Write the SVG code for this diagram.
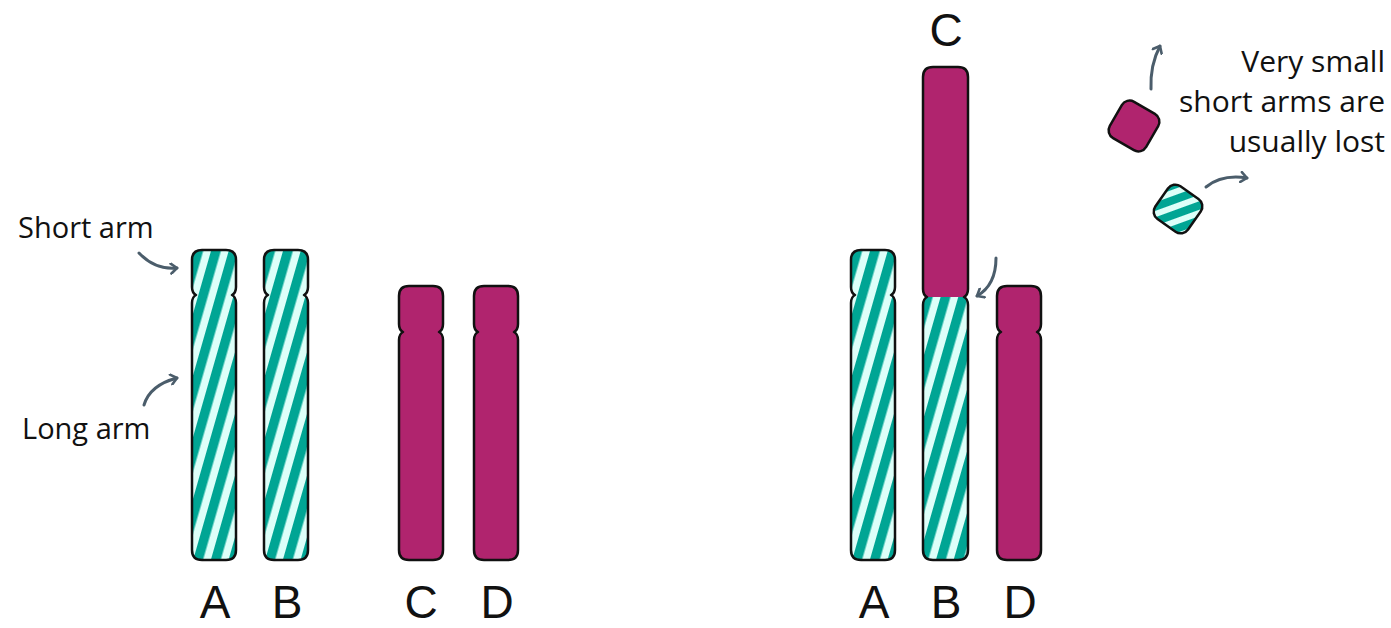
<svg xmlns="http://www.w3.org/2000/svg" width="1391" height="628" viewBox="0 0 1391 628">
  <style>
    .outline { fill: none; stroke: #111; stroke-width: 2.5; stroke-linejoin: round; }
    .magenta { fill: #B0246E; }
    .striped { fill: url(#stripes); }
    .arrow { fill: none; stroke: #4B5D6B; stroke-width: 3; stroke-linecap: round; marker-end: url(#head); }
    .label { font-family: "Open Sans", "Noto Sans", sans-serif; fill: #111; }
    .big { font-family: "Liberation Sans", Arial, sans-serif; font-size: 46px; text-anchor: middle; }
    .note { font-size: 29px; }
    .note-r { font-size: 30px; text-anchor: end; }
  </style>
  <defs>
    <pattern id="stripes" patternUnits="userSpaceOnUse" width="17" height="17" patternTransform="rotate(16)">
      <rect width="17" height="17" fill="#DDFFF9"/>
      <rect width="9.5" height="17" fill="#00A594"/>
    </pattern>
    <pattern id="stripesTilt" patternUnits="userSpaceOnUse" width="14" height="14" patternTransform="rotate(35)">
      <rect width="14" height="14" fill="#DDFFF9"/>
      <rect width="8" height="14" fill="#00A594"/>
    </pattern>
    <marker id="head" viewBox="0 0 12 12" refX="8" refY="6" markerWidth="12" markerHeight="12" markerUnits="userSpaceOnUse" orient="auto">
      <path d="M2,1 L8,6 L2,11" fill="none" stroke="#4B5D6B" stroke-width="2.6" stroke-linecap="round" stroke-linejoin="round"/>
    </marker>
    <!-- chromosome silhouettes: rounded body with a centromere pinch -->
    <path id="chrAB" d="M202,250 H226 Q236,250 236,260 V287 Q236,293 232,295 Q236,297 236,303 V550 Q236,560 226,560 H202 Q192,560 192,550 V303 Q192,297 196,295 Q192,293 192,287 V260 Q192,250 202,250 Z"/>
    <path id="chrCD" d="M409,286 H433 Q443,286 443,296 V324 Q443,330 439,332 Q443,334 443,340 V550 Q443,560 433,560 H409 Q399,560 399,550 V340 Q399,334 403,332 Q399,330 399,324 V296 Q399,286 409,286 Z"/>
    <path id="fused" d="M933,67 H958 Q968,67 968,77 V289 Q968,295 964,297 Q968,299 968,305 V550 Q968,560 958,560 H933 Q923,560 923,550 V305 Q923,299 927,297 Q923,295 923,289 V77 Q923,67 933,67 Z"/>
    <clipPath id="fusedClip"><use href="#fused"/></clipPath>
  </defs>

  <!-- before: two acrocentric pairs -->
  <g id="chrA1">
    <use href="#chrAB" class="striped"/>
    <use href="#chrAB" class="outline"/>
  </g>
  <g id="chrB1" transform="translate(72,0)">
    <use href="#chrAB" class="striped"/>
    <use href="#chrAB" class="outline"/>
  </g>
  <g id="chrC1">
    <use href="#chrCD" class="magenta"/>
    <use href="#chrCD" class="outline"/>
  </g>
  <g id="chrD1" transform="translate(75,0)">
    <use href="#chrCD" class="magenta"/>
    <use href="#chrCD" class="outline"/>
  </g>

  <!-- after: C long arm joined onto B long arm -->
  <g id="chrA2" transform="translate(659,0)">
    <use href="#chrAB" class="striped"/>
    <use href="#chrAB" class="outline"/>
  </g>
  <g id="chrBC">
    <use href="#fused" class="striped"/>
    <rect x="920" y="60" width="52" height="237" class="magenta" clip-path="url(#fusedClip)"/>
    <use href="#fused" class="outline"/>
  </g>
  <g id="chrD2" transform="translate(598,0)">
    <use href="#chrCD" class="magenta"/>
    <use href="#chrCD" class="outline"/>
  </g>

  <!-- detached short arms -->
  <g id="shortC" transform="translate(1134,126) rotate(30)">
    <rect x="-21" y="-21" width="42" height="42" rx="9" class="magenta"/>
    <rect x="-21" y="-21" width="42" height="42" rx="9" class="outline"/>
  </g>
  <g id="shortB" transform="translate(1178,209) rotate(35)">
    <rect x="-20" y="-20" width="40" height="40" rx="9" fill="url(#stripesTilt)"/>
    <rect x="-20" y="-20" width="40" height="40" rx="9" class="outline"/>
  </g>

  <g id="connectors">
    <path class="arrow" d="M139,253 Q155,270 177,268"/>
    <path class="arrow" d="M144,405 Q150,385 177,378"/>
    <path class="arrow" d="M996,258 Q996,285 977,296"/>
    <path class="arrow" d="M1151,89 Q1150,65 1160,46"/>
    <path class="arrow" d="M1206,187 Q1222,174 1247,178"/>
  </g>

  <g id="labels" class="label">
    <text class="note" x="18" y="238">Short arm</text>
    <text class="note" x="22" y="439">Long arm</text>
    <text class="note-r" x="1385" y="72">Very small</text>
    <text class="note-r" x="1385" y="112">short arms are</text>
    <text class="note-r" x="1385" y="152">usually lost</text>
    <text class="big" x="215" y="618">A</text>
    <text class="big" x="287" y="618">B</text>
    <text class="big" x="421" y="618">C</text>
    <text class="big" x="497" y="618">D</text>
    <text class="big" x="874" y="618">A</text>
    <text class="big" x="946" y="618">B</text>
    <text class="big" x="1020" y="618">D</text>
    <text class="big" x="946" y="46">C</text>
  </g>
</svg>
